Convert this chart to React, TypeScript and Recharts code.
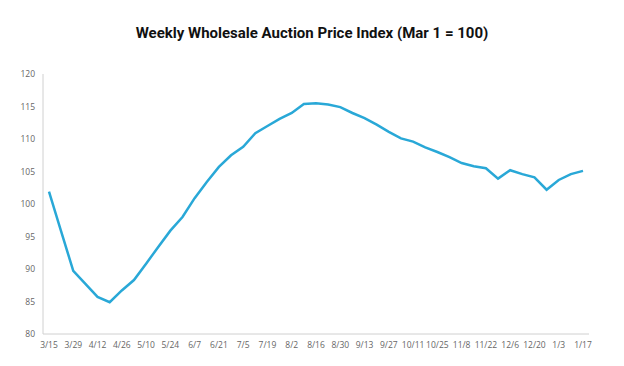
import React from "react";
import { LineChart, Line, XAxis, YAxis } from "recharts";

const weeks = [
  "3/15", "3/22", "3/29", "4/5", "4/12", "4/19", "4/26", "5/3", "5/10", "5/17",
  "5/24", "5/31", "6/7", "6/14", "6/21", "6/28", "7/5", "7/12", "7/19", "7/26",
  "8/2", "8/9", "8/16", "8/23", "8/30", "9/6", "9/13", "9/20", "9/27", "10/4",
  "10/11", "10/18", "10/25", "11/1", "11/8", "11/15", "11/22", "11/29", "12/6", "12/13",
  "12/20", "12/27", "1/3", "1/10", "1/17",
];

const priceIndex = [
  101.9, 95.8, 89.7, 87.7, 85.7, 84.9, 86.7, 88.3, 90.8, 93.4,
  95.9, 98.0, 100.9, 103.4, 105.7, 107.5, 108.8, 110.9, 112.0, 113.1,
  114.0, 115.4, 115.5, 115.3, 114.9, 114.0, 113.2, 112.2, 111.1, 110.1,
  109.6, 108.7, 108.0, 107.2, 106.3, 105.8, 105.5, 103.9, 105.2, 104.6,
  104.1, 102.2, 103.7, 104.6, 105.1,
];

const yTicks = [80, 85, 90, 95, 100, 105, 110, 115, 120];

const data = weeks.map((w, i) => ({ week: w, value: priceIndex[i] }));

const tickStyle = { fill: "#666", fontSize: 8.5, fontFamily: "Open Sans" };

export default function App() {
  return (
    <div style={{ position: "absolute", left: 0, top: 0, width: 624, height: 366, background: "#fff" }}>
      <div
        style={{
          position: "absolute",
          top: 24,
          left: 0,
          width: 624,
          textAlign: "center",
          fontFamily: "Roboto",
          fontWeight: 700,
          fontSize: 15,
          color: "#111",
        }}
      >
        Weekly Wholesale Auction Price Index (Mar 1 = 100)
      </div>
      <LineChart width={624} height={366} data={data} margin={{ top: 74, right: 35, bottom: 2, left: 13 }}>
        <XAxis
          dataKey="week"
          height={30}
          interval={1}
          padding={{ left: 6, right: 6 }}
          tickLine={false}
          axisLine={{ stroke: "#d0d0d0" }}
          tick={tickStyle}
          tickMargin={2}
        />
        <YAxis
          width={30}
          domain={[80, 120]}
          ticks={yTicks}
          tickLine={false}
          axisLine={{ stroke: "#d0d0d0" }}
          tick={tickStyle}
        />
        <Line
          type="linear"
          dataKey="value"
          stroke="#29a8d7"
          strokeWidth={2.5}
          dot={false}
          isAnimationActive={false}
        />
      </LineChart>
    </div>
  );
}
